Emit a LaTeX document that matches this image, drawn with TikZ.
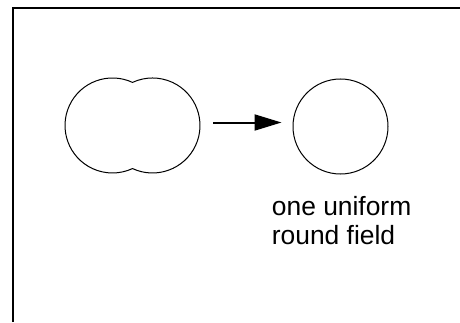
\documentclass[tikz,border=0pt]{standalone}
\usepackage{fontspec}
\setmainfont{Liberation Sans}
\usetikzlibrary{arrows.meta, positioning}
\newcommand{\notesize}{\fontsize{13.2}{14.35}\selectfont}

\begin{document}
\begin{tikzpicture}[
    x=0.5pt, y=0.5pt,
    outline/.style={draw, line width=0.5pt},
    field/.style={circle, outline, minimum size=47.5pt, inner sep=0pt},
    pair/.style={minimum width=67.5pt, minimum height=47.5pt, inner sep=0pt},
    flow/.style={-{Triangle[length=13.5pt, width=8pt]}, line width=1pt},
    frame/.style={line width=0.75pt},
    note text/.style={font=\notesize, align=left, inner sep=0pt}
]
    \useasboundingbox (0,0) rectangle (460,322);

    % Frame (top and left edges only)
    \draw[frame] (13,0) -- (13,314) -- (460,314);

    % Two overlapping fields
    \node[pair] (twin) at (132.5,196.5) {};
    \draw[outline] (132.5,239.6)
        arc[start angle=65.1, end angle=294.9, radius=47.5]
        arc[start angle=-114.9, end angle=114.9, radius=47.5] -- cycle;

    % Merged field
    \node[field] (single) at (340.5,195.5) {};
    \node[note text, anchor=base west] (note) at (271.5,77.7) {one uniform\\round field};

    % Transition
    \draw[flow, shorten <=6.5pt, shorten >=5.5pt]
        ([yshift=1.5pt]twin.east) -- ([yshift=2pt]single.west);
\end{tikzpicture}
\end{document}
